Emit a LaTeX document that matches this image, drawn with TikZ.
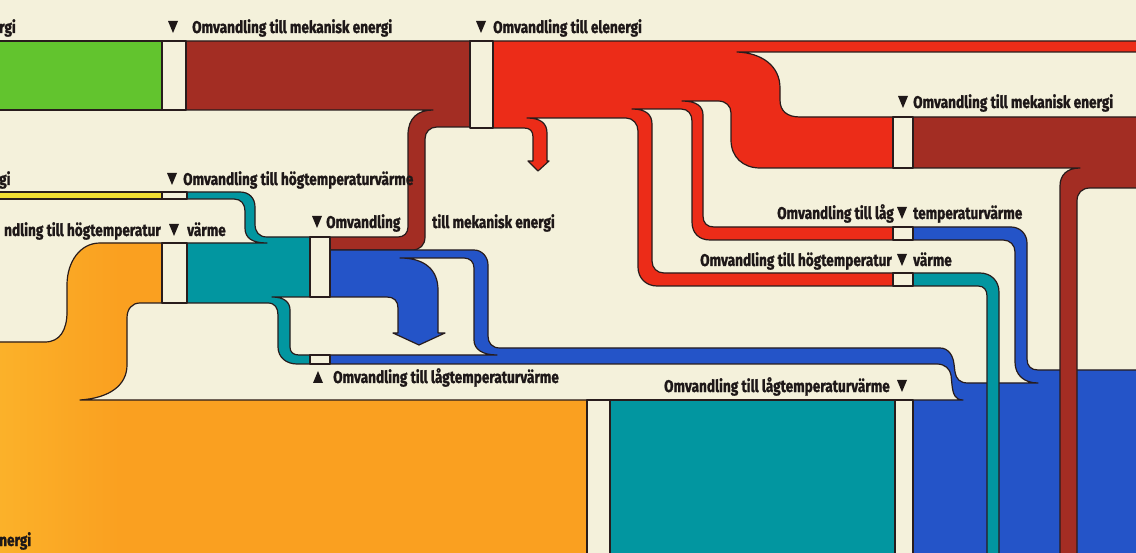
\documentclass[tikz,border=0pt]{standalone}
\usepackage{fontspec}
\newfontfamily\labfont[FakeStretch=0.8,BoldFeatures={FakeBold=1.2}]{Fira Sans}
\definecolor{bg}{RGB}{244,241,219}
\definecolor{edge}{RGB}{40,28,28}
\definecolor{txt}{RGB}{30,24,24}
\definecolor{greenA}{RGB}{98,196,46}
\definecolor{brownA}{RGB}{163,45,35}
\definecolor{redA}{RGB}{236,44,24}
\definecolor{yellowA}{RGB}{240,220,50}
\definecolor{tealA}{RGB}{2,150,160}
\definecolor{orangeA}{RGB}{250,160,32}
\definecolor{orangeL}{RGB}{251,178,42}
\definecolor{blueA}{RGB}{36,84,200}
\newcommand\tdown[2]{\fill[txt] (#1-5,#2-12) -- (#1+5,#2-12) -- (#1,#2) -- cycle;}
\newcommand\tup[2]{\fill[txt] (#1-5,#2) -- (#1+5,#2) -- (#1,#2-12) -- cycle;}
\newcommand\orangepath{(-5,342) -- (45,342) .. controls (60,342) and (67,330) .. (67,312) -- (67,285) .. controls (67,262) and (80,243) .. (100,243) -- (162,243) -- (162,303) -- (140,303) .. controls (132,303) and (127,309) .. (127,318) -- (127,365) .. controls (127,385) and (110,398) .. (80,400) -- (587,400) -- (587,560) -- (-5,560) -- cycle}
\begin{document}
\begin{tikzpicture}[x=1pt,y=-1pt,line join=round,
  flow/.style={draw=edge,line width=1.2pt},
  gapbox/.style={fill=bg,draw=edge,line width=1.2pt},
  lab/.style={font=\labfont\bfseries\fontsize{17}{19}\selectfont,text=txt,inner sep=0pt}]
\useasboundingbox (0,0) rectangle (1136,553);
\clip (0,0) rectangle (1136,553);
\fill[bg] (0,0) rectangle (1136,553);

% orange, slightly lighter towards the left edge
\fill[orangeA] \orangepath;
\begin{scope}
  \clip \orangepath;
  \shade[left color=orangeL,right color=orangeA] (-5,230) rectangle (120,560);
\end{scope}
\draw[flow] \orangepath;
% teal bottom block
\path[flow,fill=tealA] (610,400) rectangle (895,560);

% green and yellow
\path[flow,fill=greenA] (-5,41) rectangle (162,110);
\path[flow,fill=yellowA] (-5,192) rectangle (162,199);

% brown top-left
\path[flow,fill=brownA] (186,41) -- (470,41) -- (470,127) -- (437,127) .. controls (430,127) and (425,132) .. (425,139) -- (425,237) .. controls (425,245) and (420,250) .. (412,250) -- (330,250) -- (330,237) -- (398,237) .. controls (404,237) and (408,233) .. (408,227) -- (408,135) .. controls (408,118) and (418,110) .. (433,110) -- (186,110) -- cycle;

% teal left
\path[flow,fill=tealA] (187,192) -- (240,192) .. controls (249,192) and (255,198) .. (255,207) -- (255,224) .. controls (255,232) and (259,237) .. (267,237) -- (310,237) -- (310,297) -- (272,297) .. controls (284,297) and (290,302) .. (290,310) -- (290,347) .. controls (290,352) and (293,355) .. (299,355) -- (310,355) -- (310,364) -- (297,364) .. controls (286,364) and (278,357) .. (278,347) -- (278,315) .. controls (278,308) and (275,303) .. (268,303) -- (187,303) -- (187,243) -- (267,243) .. controls (252,243) and (245,238) .. (245,228) -- (245,211) .. controls (245,204) and (241,199) .. (234,199) -- (187,199) -- cycle;

% blue
\path[flow,fill=blueA] (330,250) -- (474,250) .. controls (482,250) and (488,257) .. (488,265) -- (488,336) .. controls (488,343) and (492,348) .. (500,348) -- (940,348) .. controls (948,348) and (953,355) .. (954,364) -- (955,372) .. controls (956,379) and (960,383) .. (968,383) -- (1038,383) .. controls (1024,383) and (1015,375) .. (1015,362) -- (1015,252) .. controls (1015,245) and (1010,240) .. (1003,240) -- (913,240) -- (913,227) -- (1011,227) .. controls (1020,227) and (1027,234) .. (1027,243) -- (1027,359) .. controls (1027,366) and (1031,370) .. (1038,370) -- (1140,370) -- (1140,560) -- (913,560) -- (913,400) -- (963,400) .. controls (955,400) and (953,394) .. (952,385) -- (951,375) .. controls (950,369) and (945,364) .. (937,364) -- (330,364) -- (330,355) -- (497,355) .. controls (482,355) and (474,349) .. (474,340) -- (474,268) .. controls (474,262) and (470,258) .. (464,258) -- (400,258) .. controls (425,258) and (438,270) .. (438,290) -- (438,333) -- (445,333) -- (419,345) -- (393,333) -- (398,333) -- (398,308) .. controls (398,301) and (394,297) .. (387,297) -- (330,297) -- cycle;

% red
\path[flow,fill=redA] (493,41) -- (1140,41) -- (1140,52) -- (737,52) .. controls (762,53) and (780,66) .. (780,88) -- (780,100) .. controls (780,111) and (787,117) .. (800,117) -- (893,117) -- (893,168) -- (760,168) .. controls (743,168) and (731,157) .. (731,140) -- (731,113) .. controls (731,106) and (726,101) .. (718,101) -- (682,101) .. controls (696,101) and (703,106) .. (703,115) -- (703,216) .. controls (703,223) and (707,227) .. (714,227) -- (893,227) -- (893,240) -- (710,240) .. controls (699,240) and (692,233) .. (692,222) -- (692,121) .. controls (692,114) and (688,109) .. (681,109) -- (632,109) .. controls (645,109) and (652,114) .. (652,124) -- (652,261) .. controls (652,268) and (657,273) .. (664,273) -- (893,273) -- (893,286) -- (657,286) .. controls (646,286) and (638,278) .. (638,267) -- (638,131) .. controls (638,124) and (633,118) .. (626,118) -- (527,118) .. controls (540,118) and (547,123) .. (547,133) -- (547,161) -- (549,161) -- (538,171) -- (528,161) -- (533,161) -- (533,137) .. controls (533,131) and (530,128) .. (524,128) -- (493,128) -- cycle;

% brown right
\path[flow,fill=brownA] (913,117) -- (1140,117) -- (1140,188) -- (1090,188) .. controls (1082,188) and (1077,193) .. (1077,201) -- (1077,560) -- (1060,560) -- (1060,186) .. controls (1060,175) and (1067,168) .. (1080,168) -- (913,168) -- cycle;
% teal right pipe
\path[flow,fill=tealA] (913,273) -- (980,273) .. controls (991,273) and (999,281) .. (999,292) -- (999,560) -- (987,560) -- (987,296) .. controls (987,290) and (984,286) .. (978,286) -- (913,286) -- cycle;

% conversion gaps
\path[gapbox] (162,41) rectangle (186,110);
\path[gapbox] (470,41) rectangle (493,128);
\path[gapbox] (162,192) rectangle (187,199);
\path[gapbox] (162,243) rectangle (187,303);
\path[gapbox] (310,237) rectangle (330,297);
\path[gapbox] (310,355) rectangle (330,364);
\path[gapbox] (893,117) rectangle (913,168);
\path[gapbox] (893,227) rectangle (913,240);
\path[gapbox] (893,273) rectangle (913,286);
\path[gapbox] (587,400) rectangle (610,560);
\path[gapbox] (895,400) rectangle (913,560);

% labels
\node[lab,anchor=base west] (t1) at (-1,33) {rgi};
\node[lab,anchor=base west] (t2) at (192,33) {Omvandling till mekanisk energi};
\node[lab,anchor=base west] (t3) at (493,33) {Omvandling till elenergi};
\node[lab,anchor=base west] (t4) at (913,108) {Omvandling till mekanisk energi};
\node[lab,anchor=base west] (t5) at (-1,185) {gi};
\node[lab,anchor=base west] (t6) at (183,185) {Omvandling till högtemperaturvärme};
\node[lab,anchor=base east] (t7) at (161,236) {ndling till högtemperatur};
\node[lab,anchor=base west] (t8) at (187,236) {värme};
\node[lab,anchor=base west] (t9) at (326,228) {Omvandling};
\node[lab,anchor=base west] (t10) at (432,228) {till mekanisk energi};
\node[lab,anchor=base west] (t11) at (333,383) {Omvandling till lågtemperaturvärme};
\node[lab,anchor=base east] (t12) at (894,219) {Omvandling till låg};
\node[lab,anchor=base west] (t13) at (913,219) {temperaturvärme};
\node[lab,anchor=base east] (t14) at (892,266) {Omvandling till högtemperatur};
\node[lab,anchor=base west] (t15) at (913,266) {värme};
\node[lab,anchor=base east] (t16) at (890,392) {Omvandling till lågtemperaturvärme};
\node[lab,anchor=base west] (t17) at (-1,546) {nergi};
\tdown{173}{33}
\tdown{481}{33}
\tdown{903}{108}
\tdown{172}{185}
\tdown{174}{236}
\tdown{317}{228}
\tdown{902}{219}
\tdown{902}{266}
\tdown{902}{392}
\tup{318}{383}
\end{tikzpicture}
\end{document}
